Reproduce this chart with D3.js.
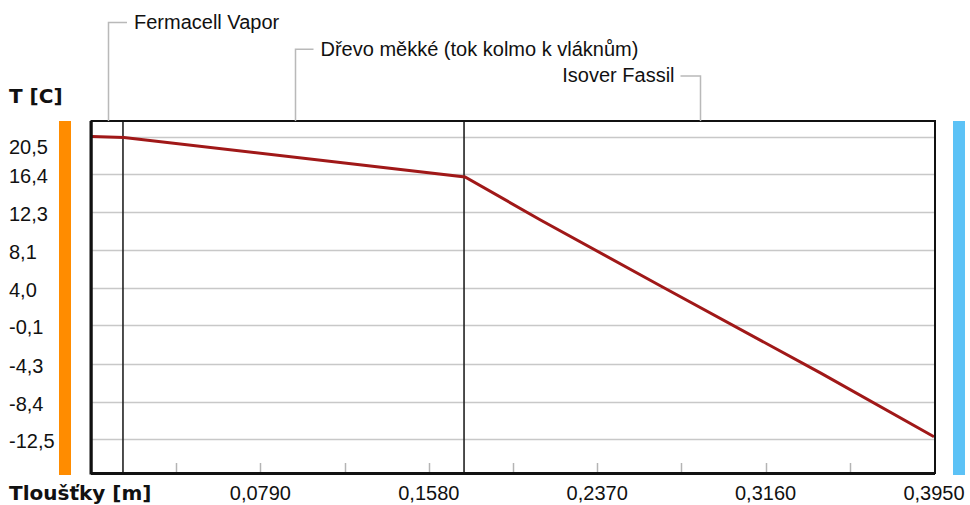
<!DOCTYPE html>
<html>
<head>
<meta charset="utf-8">
<script src="https://cdn.jsdelivr.net/npm/d3@7"></script>
<style>
    body { margin: 0; background: #fff; }
    text { font-family: "Liberation Sans", Arial, sans-serif; font-size: 20px; fill: #111; }
    .bold { font-family: "DejaVu Sans", sans-serif; font-weight: bold; }
</style>
</head>
<body>
<div id="chart"></div>
<script>
// Layers of the wall (name, thickness in m)
const layerNames = ["Fermacell Vapor", "Dřevo měkké (tok kolmo k vláknům)", "Isover Fassil"];
const layerThickness = [0.015, 0.160, 0.220];

// Temperature profile
const profileX = [0, 0.015, 0.175, 0.2104, 0.2668, 0.3419, 0.395];
const profileT = [20.5, 20.4, 16.1, 11.4, 4.2, -5.3, -12.25];

// Tick labels
const yTicks = [20.5, 16.4, 12.3, 8.1, 4.0, -0.1, -4.3, -8.4, -12.5];
const xTicks = [0.0790, 0.1580, 0.2370, 0.3160, 0.3950];
const xMinorStep = 0.0395;

// Czech style number: comma decimal, plain hyphen minus
function fmt(v, digits) {
    return v.toFixed(digits).replace(".", ",");
}

function createChart() {
    d3.select("#chart").html("");

    const W = 970, H = 505;
    const margin = { top: 121, right: 36, bottom: 32, left: 92 };
    const width = W - margin.left - margin.right;
    const height = H - margin.top - margin.bottom;

    const svg = d3.select("#chart")
        .append("svg")
        .attr("width", W)
        .attr("height", H);

    const xScale = d3.scaleLinear().domain([0, 0.395]).range([margin.left, margin.left + width]);
    const yScale = d3.scaleLinear().domain([-16.2, 22.2]).range([margin.top + height, margin.top]);

    // Inside / outside colour bars
    svg.append("rect")
        .attr("x", 59).attr("y", margin.top)
        .attr("width", 12).attr("height", height + 2)
        .attr("fill", "#ff8c00");
    svg.append("rect")
        .attr("x", 953).attr("y", margin.top)
        .attr("width", 12).attr("height", height + 2)
        .attr("fill", "#5cc2f6");

    // Horizontal grid lines
    svg.append("g")
        .selectAll("line")
        .data(yTicks)
        .enter()
        .append("line")
        .attr("x1", margin.left)
        .attr("x2", margin.left + width)
        .attr("y1", d => Math.round(yScale(d)) + 0.5)
        .attr("y2", d => Math.round(yScale(d)) + 0.5)
        .attr("stroke", "#c8c8c8")
        .attr("stroke-width", 1.5);

    // Y tick labels (left aligned; the top one pushed down)
    svg.append("g")
        .selectAll("text")
        .data(yTicks)
        .enter()
        .append("text")
        .attr("x", 9)
        .attr("y", d => Math.max(yScale(d) + 2, margin.top + 26))
        .attr("dy", "0.35em")
        .text(d => fmt(d, 1));

    // Minor ticks on the bottom axis
    const minor = d3.range(1, 10).map(i => i * xMinorStep);
    svg.append("g")
        .selectAll("line")
        .data(minor)
        .enter()
        .append("line")
        .attr("x1", d => Math.round(xScale(d)) + 0.5)
        .attr("x2", d => Math.round(xScale(d)) + 0.5)
        .attr("y1", margin.top + height - 10)
        .attr("y2", margin.top + height)
        .attr("stroke", "#b4b4b4")
        .attr("stroke-width", 1.5);

    // X tick labels
    svg.append("g")
        .selectAll("text")
        .data(xTicks)
        .enter()
        .append("text")
        .attr("x", d => xScale(d))
        .attr("y", 500)
        .attr("text-anchor", "middle")
        .text(d => fmt(d, 4));

    // Layer boundaries
    const bounds = Array.from(d3.cumsum(layerThickness));
    svg.append("g")
        .selectAll("line")
        .data(bounds.slice(0, -1))
        .enter()
        .append("line")
        .attr("x1", d => xScale(d) - 1)
        .attr("x2", d => xScale(d) - 1)
        .attr("y1", margin.top)
        .attr("y2", margin.top + height)
        .attr("stroke", "#222")
        .attr("stroke-width", 1.6);

    // Temperature line
    const line = d3.line()
        .x((d, i) => xScale(d))
        .y((d, i) => yScale(profileT[i]));
    svg.append("path")
        .datum(profileX)
        .attr("d", line)
        .attr("fill", "none")
        .attr("stroke", "#a01818")
        .attr("stroke-width", 3);

    // Plot frame (left and bottom heavier)
    svg.append("rect")
        .attr("x", margin.left - 0.5).attr("y", margin.top)
        .attr("width", width + 1.5).attr("height", height)
        .attr("fill", "none")
        .attr("stroke", "#111")
        .attr("stroke-width", 2);
    svg.append("line")
        .attr("x1", margin.left - 1).attr("x2", margin.left - 1)
        .attr("y1", margin.top).attr("y2", margin.top + height + 1.5)
        .attr("stroke", "#111").attr("stroke-width", 3);
    svg.append("line")
        .attr("x1", margin.left - 1).attr("x2", margin.left + width + 1)
        .attr("y1", margin.top + height + 0.5).attr("y2", margin.top + height + 0.5)
        .attr("stroke", "#111").attr("stroke-width", 3);

    // Layer name labels with gray brackets, staggered;
    // labels in the right half hang to the left of their bracket
    const starts = [0].concat(bounds.slice(0, -1));
    layerNames.forEach((name, i) => {
        const cx = xScale(starts[i] + layerThickness[i] / 2);
        const ly = 22 + i * 26.7;
        const flip = cx > W / 2;
        const g = svg.append("g");
        g.append("text")
            .attr("x", flip ? cx - 25 : cx + 26)
            .attr("y", ly)
            .attr("dy", "0.35em")
            .attr("text-anchor", flip ? "end" : "start")
            .text(name);
        g.append("path")
            .attr("d", `M${cx + (flip ? -19 : 19)},${ly + 0.5}H${Math.round(cx) + 0.5}V${margin.top}`)
            .attr("fill", "none")
            .attr("stroke", "#b9b9b9")
            .attr("stroke-width", 1.5);
    });

    // Axis titles
    svg.append("text")
        .attr("class", "bold")
        .attr("x", 9)
        .attr("y", 103)
        .text("T [C]");
    svg.append("text")
        .attr("class", "bold")
        .attr("x", 9)
        .attr("y", 500)
        .text("Tloušťky [m]");
}

createChart();
</script>
</body>
</html>
